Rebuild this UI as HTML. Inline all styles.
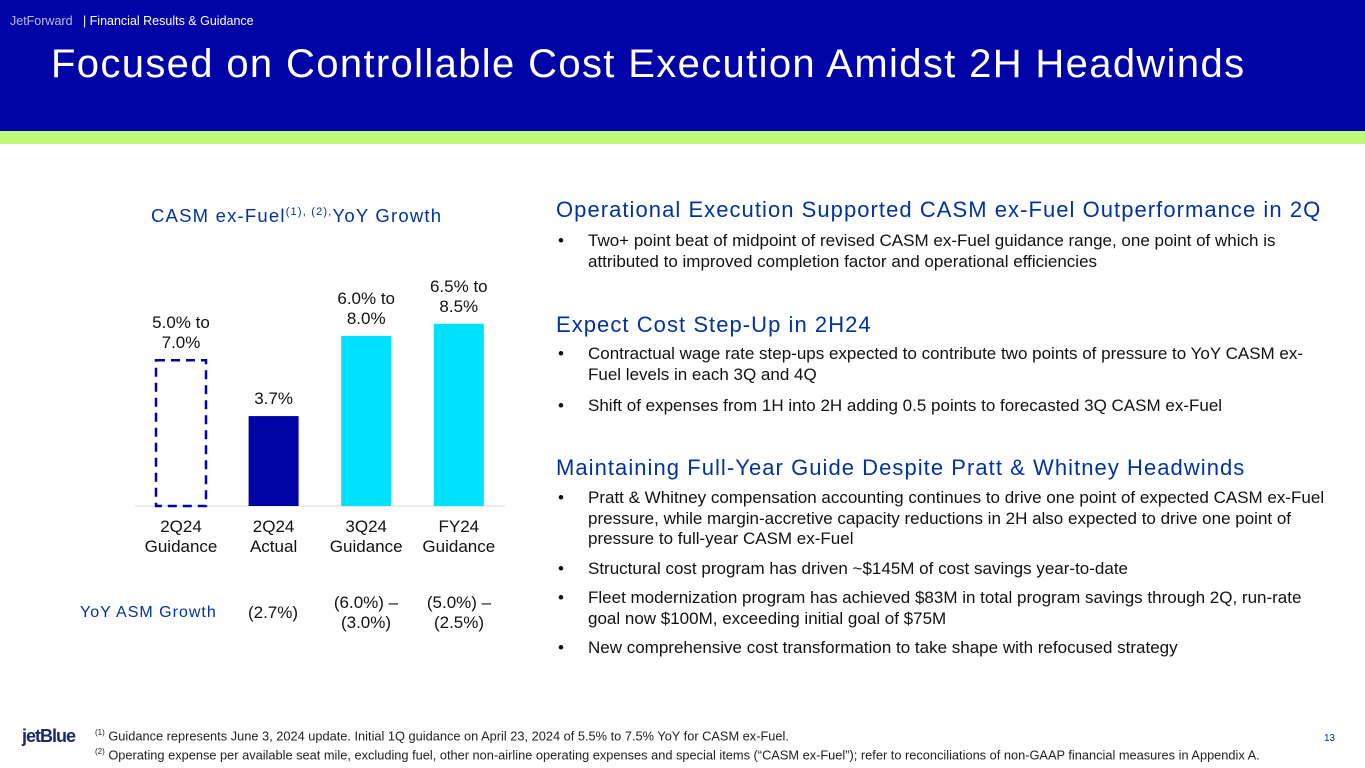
<!DOCTYPE html>
<html><head><meta charset="utf-8"><style>
body{margin:0;width:1365px;height:768px;position:relative;font-family:"Liberation Sans",sans-serif;background:#fff;overflow:hidden}
.a{position:absolute}
.h{color:#0033a0;font-size:22px;letter-spacing:1.05px}
.b{font-size:17px;color:#111;line-height:20.5px}
.b li{margin:0 0 9px 0;padding-left:32px;position:relative;list-style:none;white-space:nowrap}
.b li:before{content:"•";position:absolute;left:2px}
.c{font-size:17px;color:#111;text-align:center;line-height:20px}
</style></head><body>
<div class="a" style="left:0;top:0;width:1365px;height:131px;background:#0003a5"></div>
<div class="a" style="left:0;top:131px;width:1365px;height:13px;background:#c0fa7a"></div>
<div class="a" style="left:10px;top:14px;font-size:12.5px;color:#b8bce8">JetForward &nbsp; <span style="color:#fff">| Financial Results &amp; Guidance</span></div>
<div class="a" style="left:51px;top:42px;font-size:40px;color:#fff;letter-spacing:1.35px">Focused on Controllable Cost Execution Amidst 2H Headwinds</div>

<div class="a h" style="left:151px;top:205px;font-size:18.5px;letter-spacing:1.2px">CASM ex-Fuel<sup style="font-size:11px">(1), (2),</sup>YoY Growth</div>
<svg class="a" style="left:0;top:0" width="560" height="640" id="chart"></svg>
<div class="a" style="left:80px;top:604px;font-size:16px;color:#0033a0;letter-spacing:1px">YoY ASM Growth</div>
<div class="a c" style="left:233px;top:603px;width:80px">(2.7%)</div>
<div class="a c" style="left:326px;top:593px;width:80px">(6.0%) –<br>(3.0%)</div>
<div class="a c" style="left:419px;top:593px;width:80px">(5.0%) –<br>(2.5%)</div>

<div class="a h" style="left:556px;top:197px">Operational Execution Supported CASM ex-Fuel Outperformance in 2Q</div>
<ul class="a b" style="left:556px;top:231px;width:790px;margin:0;padding:0">
<li>Two+ point beat of midpoint of revised CASM ex-Fuel guidance range, one point of which is<br>attributed to improved completion factor and operational efficiencies</li></ul>
<div class="a h" style="left:556px;top:312px">Expect Cost Step-Up in 2H24</div>
<ul class="a b" style="left:556px;top:344px;width:790px;margin:0;padding:0">
<li style="margin-bottom:11px">Contractual wage rate step-ups expected to contribute two points of pressure to YoY CASM ex-<br>Fuel levels in each 3Q and 4Q</li>
<li>Shift of expenses from 1H into 2H adding 0.5 points to forecasted 3Q CASM ex-Fuel</li></ul>
<div class="a h" style="left:556px;top:455px">Maintaining Full-Year Guide Despite Pratt &amp; Whitney Headwinds</div>
<ul class="a b" style="left:556px;top:488px;width:790px;margin:0;padding:0">
<li>Pratt &amp; Whitney compensation accounting continues to drive one point of expected CASM ex-Fuel<br>pressure, while margin-accretive capacity reductions in 2H also expected to drive one point of<br>pressure to full-year CASM ex-Fuel</li>
<li>Structural cost program has driven ~$145M of cost savings year-to-date</li>
<li>Fleet modernization program has achieved $83M in total program savings through 2Q, run-rate<br>goal now $100M, exceeding initial goal of $75M</li>
<li>New comprehensive cost transformation to take shape with refocused strategy</li></ul>

<div class="a" style="left:22px;top:726px;font-size:18px;font-weight:bold;color:#1a2a6c;letter-spacing:-1px">jetBlue</div>
<div class="a" style="left:95px;top:725px;font-size:12.8px;color:#222;line-height:16px"><sup style="font-size:8px">(1)</sup> Guidance represents June 3, 2024 update. Initial 1Q guidance on April 23, 2024 of 5.5% to 7.5% YoY for CASM ex-Fuel.<br><sup style="font-size:8px">(2)</sup> Operating expense per available seat mile, excluding fuel, other non-airline operating expenses and special items (“CASM ex-Fuel”); refer to reconciliations of non-GAAP financial measures in Appendix A.</div>
<div class="a" style="left:1324px;top:733px;font-size:10px;color:#0033a0">13</div>
<script>
const categories=["2Q24|Guidance","2Q24|Actual","3Q24|Guidance","FY24|Guidance"];
const values=[6.0,3.7,7.0,7.5];
const valueLabels=["5.0% to|7.0%","3.7%","6.0% to|8.0%","6.5% to|8.5%"];
const styles=["dashed","dark","cyan","cyan"];
const svg=document.getElementById('chart');const NS="http://www.w3.org/2000/svg";
const base=506,ppu=24.3,x0=181,step=92.6,bw=50;
const y=v=>base-v*ppu, xc=i=>x0+i*step;
function mk(t,a){const e=document.createElementNS(NS,t);for(const k in a)e.setAttribute(k,a[k]);svg.appendChild(e);return e;}
const ax=mk('line',{x1:135,x2:505,y1:base,y2:base,stroke:'#d9d9d9','stroke-width':1});


values.forEach((v,i)=>{
 const s=styles[i];
 const r=mk('rect',{x:xc(i)-bw/2,y:y(v),width:bw,height:v*ppu,fill:s=='dark'?'#0003a5':s=='cyan'?'#00e1ff':'none',stroke:s=='dashed'?'#0003a5':'none','stroke-width':2.5,'stroke-dasharray':s=='dashed'?'9,6':''});
 
 
 const lines=valueLabels[i].split('|');
 lines.forEach((l,j)=>{const t=mk('text',{x:xc(i),y:y(v)-12-(lines.length-1-j)*20,'text-anchor':'middle','font-size':17,fill:'#111'});t.textContent=l;
  
  });
 categories[i].split('|').forEach((l,j)=>{const t=mk('text',{x:xc(i),y:532+j*20,'text-anchor':'middle','font-size':17,fill:'#111'});t.textContent=l;
  
  });
});
</script>
</body></html>
